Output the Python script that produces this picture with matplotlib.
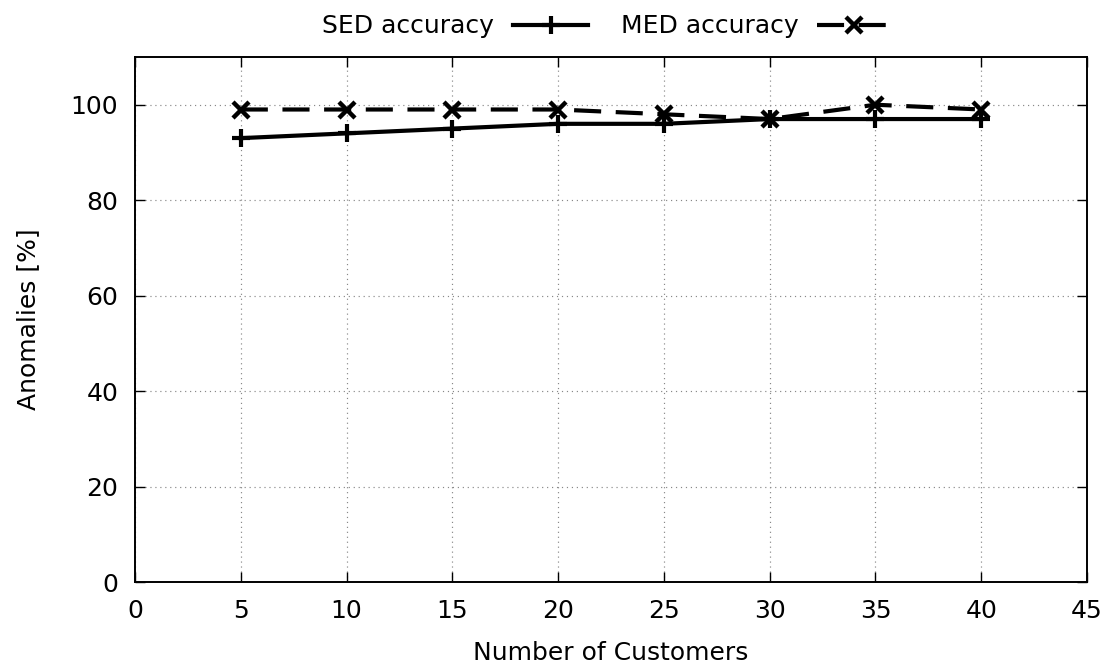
import matplotlib
matplotlib.use("Agg")
import matplotlib.pyplot as plt

customers = [5, 10, 15, 20, 25, 30, 35, 40]
sed_accuracy = [93, 94, 95, 96, 96, 97, 97, 97]
med_accuracy = [99, 99, 99, 99, 98, 97, 100, 99]
x_ticks = [0, 5, 10, 15, 20, 25, 30, 35, 40, 45]
y_ticks = [0, 20, 40, 60, 80, 100]

plt.rcParams['font.family'] = ['DejaVu Sans']
fig = plt.figure(figsize=(11.1, 6.7), dpi=100)
ax = fig.add_axes([135 / 1110, 88 / 670, 952 / 1110, 525 / 670])

l1, = ax.plot(customers, sed_accuracy, color='black', lw=3, marker='+',
              markersize=13, mew=3, label='SED accuracy')
l2, = ax.plot(customers, med_accuracy, color='black', lw=3, marker='x',
              markersize=11, mew=3.2, ls=(0, (6.5, 3.5)), label='MED accuracy')

ax.set_xlim(0, 45)
ax.set_ylim(0, 110)
ax.set_xticks(x_ticks)
ax.set_yticks(y_ticks)
ax.tick_params(direction='in', top=True, right=True, length=7, width=1,
               labelsize=18)
ax.tick_params(axis='x', pad=12)
ax.tick_params(axis='y', pad=12)
ax.grid(True, ls=(0, (1, 3.2)), color='#888888', lw=0.85)
for s in ax.spines.values():
    s.set_linewidth(1.4)
ax.set_xlabel('Number of Customers', fontsize=18, labelpad=13)
ax.set_ylabel('Anomalies [%]', fontsize=18, labelpad=22)

fig.legend(handles=[l1, l2], loc='upper center', bbox_to_anchor=(0.547, 1.012),
           ncol=2, frameon=False, markerfirst=False, fontsize=18,
           handlelength=3.0, columnspacing=1.3, handletextpad=0.75)

fig.savefig('out.png', dpi=100)
